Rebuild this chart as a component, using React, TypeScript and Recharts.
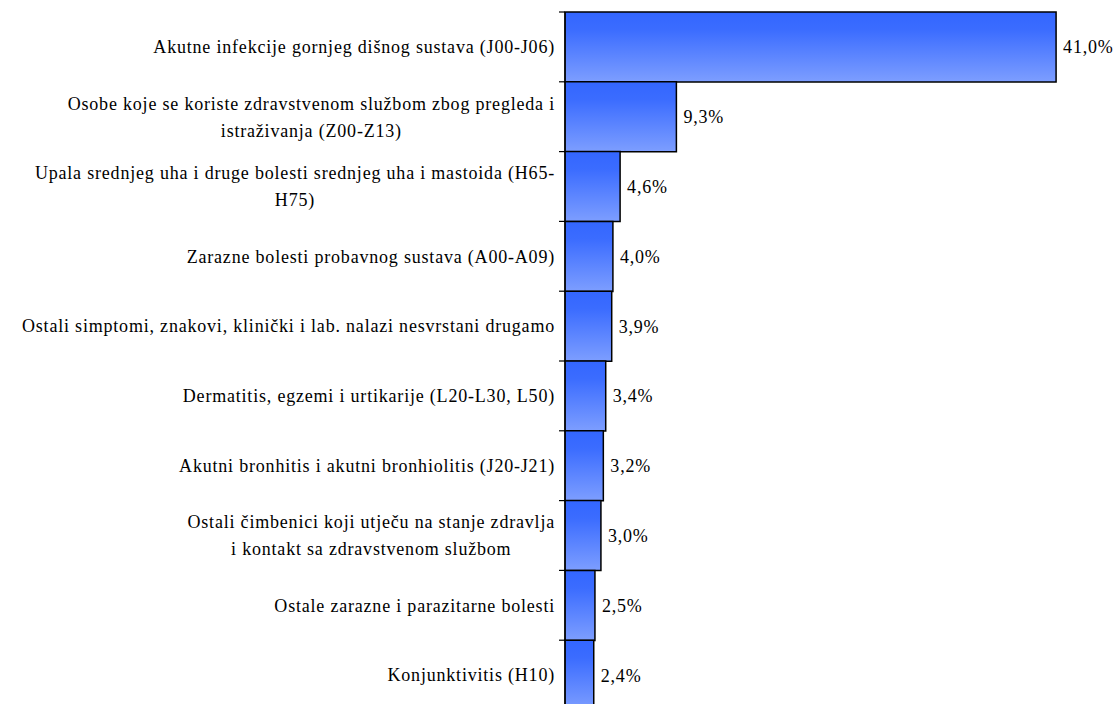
import { Bar, BarChart, LabelList, XAxis, YAxis } from "recharts";

const categories = [
  "Akutne infekcije gornjeg dišnog sustava (J00-J06)",
  "Osobe koje se koriste zdravstvenom službom zbog pregleda i\nistraživanja (Z00-Z13)",
  "Upala srednjeg uha i druge bolesti srednjeg uha i mastoida (H65-\nH75)",
  "Zarazne bolesti probavnog sustava (A00-A09)",
  "Ostali simptomi, znakovi, klinički i lab. nalazi nesvrstani drugamo",
  "Dermatitis, egzemi i urtikarije (L20-L30, L50)",
  "Akutni bronhitis i akutni bronhiolitis (J20-J21)",
  "Ostali čimbenici koji utječu na stanje zdravlja\ni kontakt sa zdravstvenom službom",
  "Ostale zarazne i parazitarne bolesti",
  "Konjunktivitis (H10)",
];
const shares = [41.0, 9.3, 4.6, 4.0, 3.9, 3.4, 3.2, 3.0, 2.5, 2.4];

const data = categories.map((name, i) => ({ name, value: shares[i] }));

const W = 1115;
const H = 710;
const TOP = 12;
const AXIS_W = 565;
const FONT = "'Times New Roman', 'Liberation Serif', serif";
const FS = 18;
const LS = 0.8;
const band = (H - TOP) / categories.length;

let ctx: CanvasRenderingContext2D | null = null;
function textWidth(s: string) {
  if (!ctx) ctx = document.createElement("canvas").getContext("2d");
  if (!ctx) return s.length * FS * 0.5;
  ctx.font = `${FS}px ${FONT}`;
  return ctx.measureText(s).width + s.length * LS;
}

function CategoryTick({ y, payload }: any) {
  const lines = String(payload.value).split("\n");
  const right = AXIS_W - 10;
  const lh = 27;
  const top = band / 2;
  let cx = right;
  let anchor: "end" | "middle" = "end";
  if (lines.length > 1) {
    const maxW = Math.max(...lines.map(textWidth));
    cx = right - maxW / 2;
    anchor = "middle";
  }
  return (
    <g>
      <line x1={AXIS_W - 6} x2={AXIS_W} y1={y - top} y2={y - top} stroke="#000" strokeWidth={1.2} />
      <text
        x={cx}
        y={y}
        textAnchor={anchor}
        style={{ fontFamily: FONT, fontSize: FS, letterSpacing: LS }}
        fill="#000"
      >
        {lines.map((l, i) => (
          <tspan key={i} x={cx} dy={i === 0 ? (-(lines.length - 1) * lh) / 2 + FS * 0.35 : lh}>
            {l}
          </tspan>
        ))}
      </text>
    </g>
  );
}

export default function App() {
  return (
    <div style={{ width: W, height: 704, overflow: "hidden", background: "#fff", fontFamily: FONT }}>
      <style>{`body{margin:0}`}</style>
      <BarChart
        width={W}
        height={H}
        data={data}
        layout="vertical"
        barCategoryGap={0}
        margin={{ top: TOP, right: 11, bottom: 0, left: 0 }}
        style={{ fontFamily: FONT }}
      >
        <defs>
          <linearGradient id="barFill" x1="0" y1="0" x2="0" y2="1">
            <stop offset="0%" stopColor="#3366ff" />
            <stop offset="25%" stopColor="#3b6cff" />
            <stop offset="100%" stopColor="#7d9eff" />
          </linearGradient>
        </defs>
        <XAxis type="number" domain={[0, 45]} hide />
        <YAxis
          type="category"
          dataKey="name"
          width={AXIS_W}
          tick={<CategoryTick />}
          tickLine={false}
          axisLine={{ stroke: "#000", strokeWidth: 1.2 }}
          interval={0}
        />
        <Bar dataKey="value" fill="url(#barFill)" stroke="#000" strokeWidth={1.5} isAnimationActive={false}>
          <LabelList
            dataKey="value"
            position="right"
            offset={7}
            formatter={(v: any) => `${Number(v).toFixed(1).replace(".", ",")}%`}
            style={{ fontFamily: FONT, fontSize: FS, letterSpacing: LS, fill: "#000" }}
          />
        </Bar>
      </BarChart>
    </div>
  );
}
